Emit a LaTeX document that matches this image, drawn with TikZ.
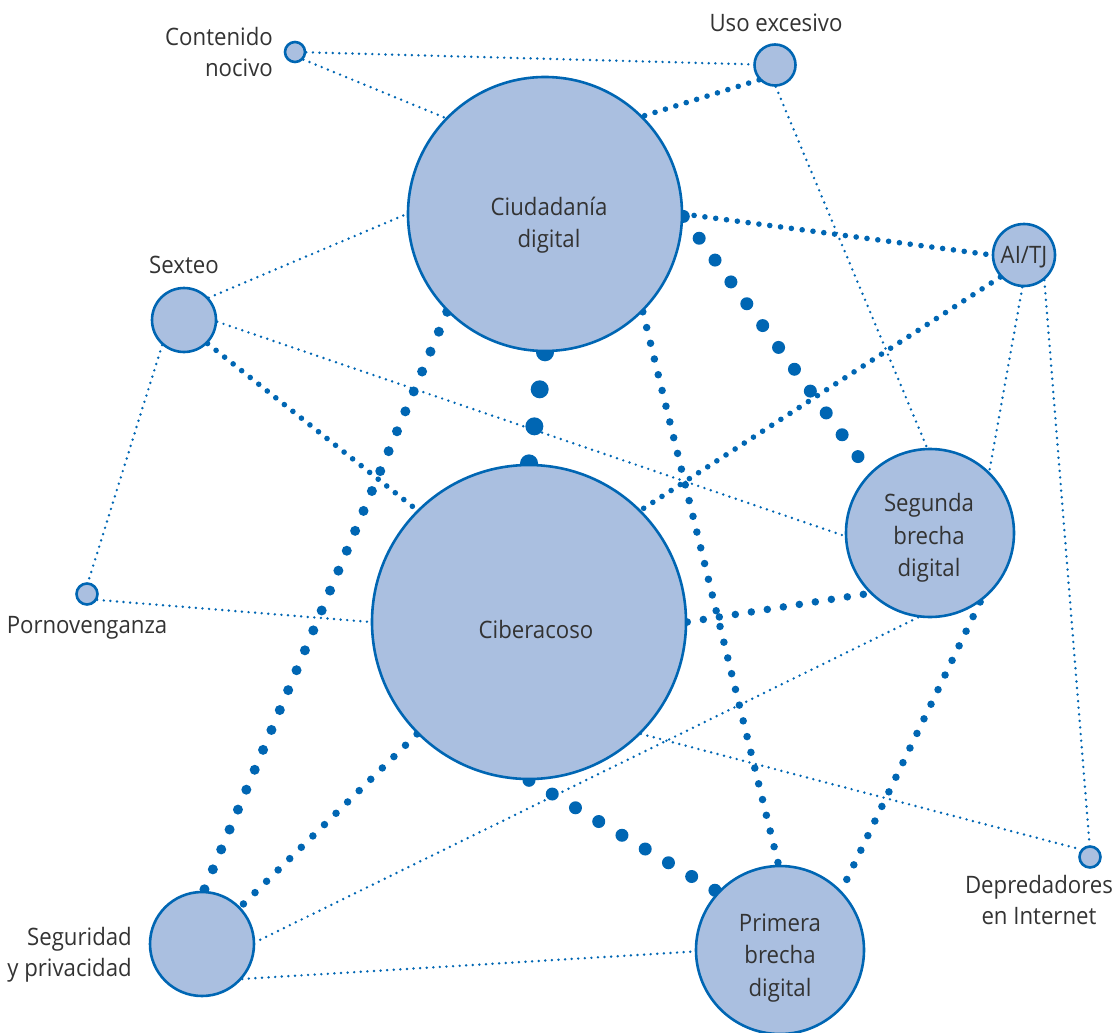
\documentclass[tikz,border=0pt]{standalone}
\usepackage{fontspec}
\setmainfont{Open Sans}[FakeStretch=0.925]
\usetikzlibrary{backgrounds}
\definecolor{lblue}{HTML}{0066B3}
\definecolor{lfill}{HTML}{AABFE0}
\definecolor{ltext}{HTML}{333333}
\begin{document}
\begin{tikzpicture}[x=1pt,y=-1pt,
  topic/.style={circle, draw=lblue, fill=lfill, line width=2.6pt, inner sep=0pt},
  lab/.style={text=ltext, font=\fontsize{24}{31}\selectfont, inner sep=0pt},
  inlab/.style={text=ltext, font=\fontsize{24}{32.5}\selectfont, inner sep=0pt, align=center},
  link/.style={draw=lblue, line cap=round},
  dotxs/.style={link, line width=2.7pt, dash pattern=on 0pt off 6.6pt},
  dots/.style={link, line width=5.6pt, dash pattern=on 0pt off 10.9pt},
  dotm/.style={link, line width=7.5pt, dash pattern=on 0pt off 16.2pt},
  dotml/.style={link, line width=10pt, dash pattern=on 0pt off 21.6pt},
  dotl/.style={link, line width=13pt, dash pattern=on 0pt off 27pt},
  dotxl/.style={link, line width=18pt, dash pattern=on 0pt off 37.4pt}
]
\useasboundingbox (0,0) rectangle (1114,1033);

% topics
\node[topic, minimum size=20pt] (cn) at (295,52) {};
\node[topic, minimum size=41pt] (ue) at (775,65) {};
\node[topic, minimum size=274pt] (cd) at (545,214) {};
\node[topic, minimum size=62pt] (ai) at (1024,255) {};
\node[topic, minimum size=64pt] (sx) at (184,320) {};
\node[topic, minimum size=21pt] (pv) at (87,594) {};
\node[topic, minimum size=314pt] (ca) at (529,622) {};
\node[topic, minimum size=168pt] (sb) at (930,533) {};
\node[topic, minimum size=21pt] (dp) at (1090,857) {};
\node[topic, minimum size=104pt] (sp) at (202,944) {};
\node[topic, minimum size=168pt] (pb) at (780,950) {};

% texts inside the circles
\node[inlab] (cdt) at (549,225) {Ciudadanía\\digital};
\node[inlab] (cat) at (536,629) {Ciberacoso};
\node[inlab] (sbt) at (929,538) {Segunda\\brecha\\digital};
\node[inlab] (pbt) at (780,958) {Primera\\brecha\\digital};
\node[inlab] (ait) at (1024,257) {AI/TJ};

% labels
\node[lab, anchor=north east, align=right] (cnl) at (273,27) {Contenido\\nocivo};
\node[lab, anchor=base] (uel) at (776,32) {Uso excesivo};
\node[lab, anchor=base] (sxl) at (184,273) {Sexteo};
\node[lab, anchor=base] (pvl) at (87,633) {Pornovenganza};
\node[lab, anchor=north, align=center] (dpl) at (1039,875) {Depredadores\\en Internet};
\node[lab, anchor=north east, align=right] (spl) at (132,927) {Seguridad\\y privacidad};

% connectors
\begin{scope}[on background layer]
\draw[dotxs] (cn) -- (ue);
\draw[dotxs] (cn.-42) -- (cd.136);
\draw[dots] (ue.-137) -- (cd.45);
\draw[dotxs] (ue.-88) -- (sb.92);
\draw[dots] (cd.0) -- (ai.180);
\draw[dotl] (cd.-1) -- (sb.135);
\draw[dotxl] (cd.-90) -- (ca.90);
\draw[dotm] (cd.-45) -- (pb.91);
\draw[dotml] (cd.225) -- (sp.88);
\draw[dotxs] (sx.42) -- (cd.180);
\draw[dotxs] (sx.-3) -- (sb.182);
\draw[dots] (sx.-45) -- (ca.135);
\draw[dotxs] (sx.229) -- (pv.85);
\draw[dotxs] (pv.-30) -- (ca.180);
\draw[dots] (ai.-137.5) -- (ca.45);
\draw[dotxs] (ai.-93) -- (sb.46);
\draw[dotxs] (ai.-51) -- (dp.92);
\draw[dotm] (ca.0) -- (sb.225);
\draw[dotxs] (sb.-98) -- (sp.2);
\draw[dotm] (sb.-54) -- (pb.44);
\draw[dotxs] (ca.-45) -- (dp.140);
\draw[dotl] (ca.-90) -- (pb.137);
\draw[dotm] (ca.225) -- (sp.44);
\draw[dotxs] (sp.-41) -- (pb.181);
\end{scope}
\end{tikzpicture}
\end{document}
